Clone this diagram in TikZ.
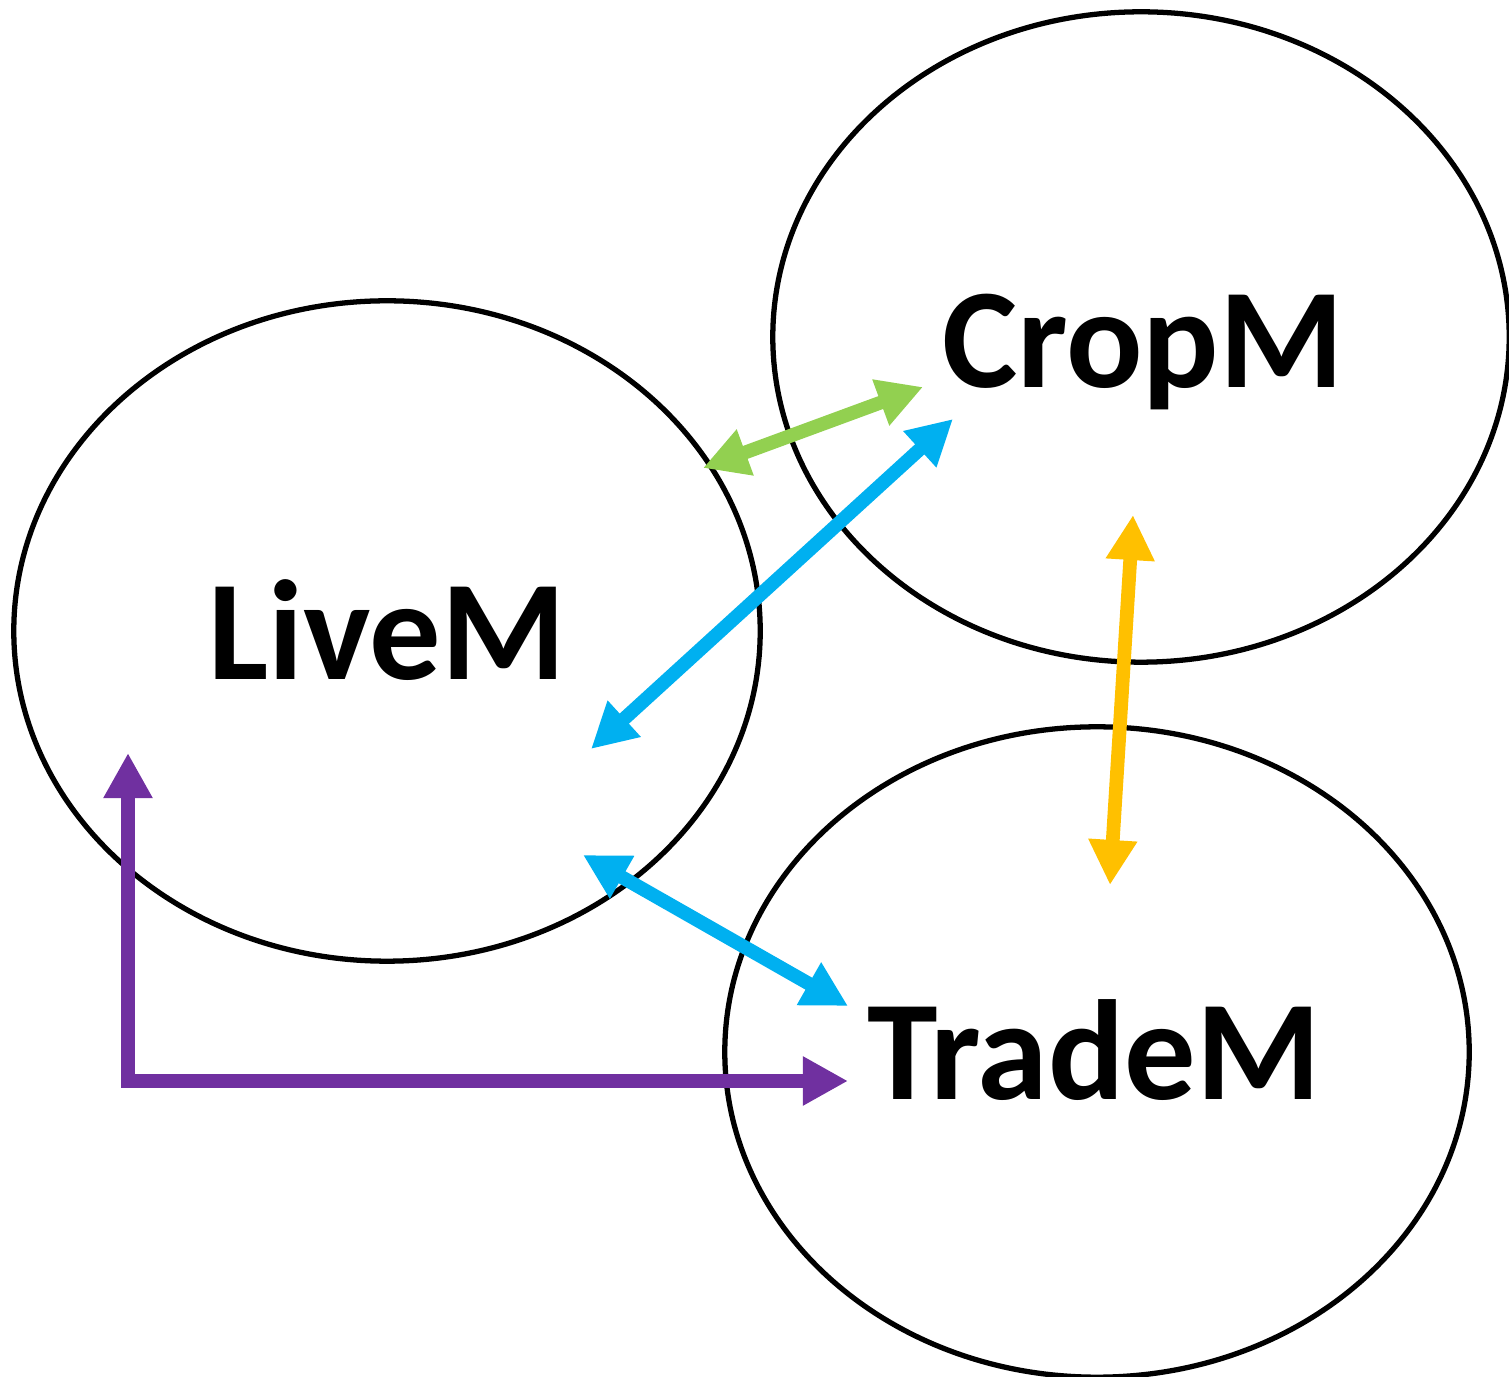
\documentclass[tikz,border=0pt]{standalone}
\usepackage{fontspec}
\setmainfont{Carlito}
\usetikzlibrary{arrows.meta,shapes.geometric}
\definecolor{cgreen}{HTML}{92D050}
\definecolor{cblue}{HTML}{00B0F0}
\definecolor{cyellow}{HTML}{FFC000}
\definecolor{cpurple}{HTML}{7030A0}
\begin{document}
\begin{tikzpicture}[x=0.01cm,y=-0.01cm,
  model/.style={ellipse,draw=black,line width=1.5pt,inner sep=0pt},
  lbl/.style={font=\bfseries\fontsize{40.5}{48}\selectfont,anchor=base,inner sep=0pt},
  link/.style={line width=3.9pt,{Triangle[length=0.45cm,width=0.46cm]}-{Triangle[length=0.45cm,width=0.46cm]}}]
\useasboundingbox (0,0) rectangle (1509,1377);
% ellipses
\node[model,minimum width=7.46cm,minimum height=6.60cm] (live) at (387,631) {};
\node[model,minimum width=7.36cm,minimum height=6.50cm] (crop) at (1141,337) {};
\node[model,minimum width=7.44cm,minimum height=6.50cm] (trade) at (1097,1052) {};
% labels
\node[lbl] (tlive) at (387,680) {LiveM};
\node[lbl] (tcrop) at (1143,388) {CropM};
\node[lbl] (ttrade) at (1094,1100) {TradeM};
% arrow end points
\coordinate (g1) at (703,468);
\coordinate (g2) at (923,387);
\coordinate (b1) at (591,749);
\coordinate (b2) at (953,419);
\coordinate (y1) at (1133,515);
\coordinate (y2) at (1110,885);
\coordinate (c1) at (583,855);
\coordinate (c2) at (848,1006);
\coordinate (p1) at (128,753);
\coordinate (p2) at (848,1081);
% connectors
\draw[link,draw=cgreen] (g1) -- (g2);
\draw[link,draw=cblue] (b1) -- (b2);
\draw[link,draw=cyellow] (y1) -- (y2);
\draw[link,draw=cblue] (c1) -- (c2);
\draw[link,draw=cpurple,line join=miter] (p1) |- (p2);
\end{tikzpicture}
\end{document}
